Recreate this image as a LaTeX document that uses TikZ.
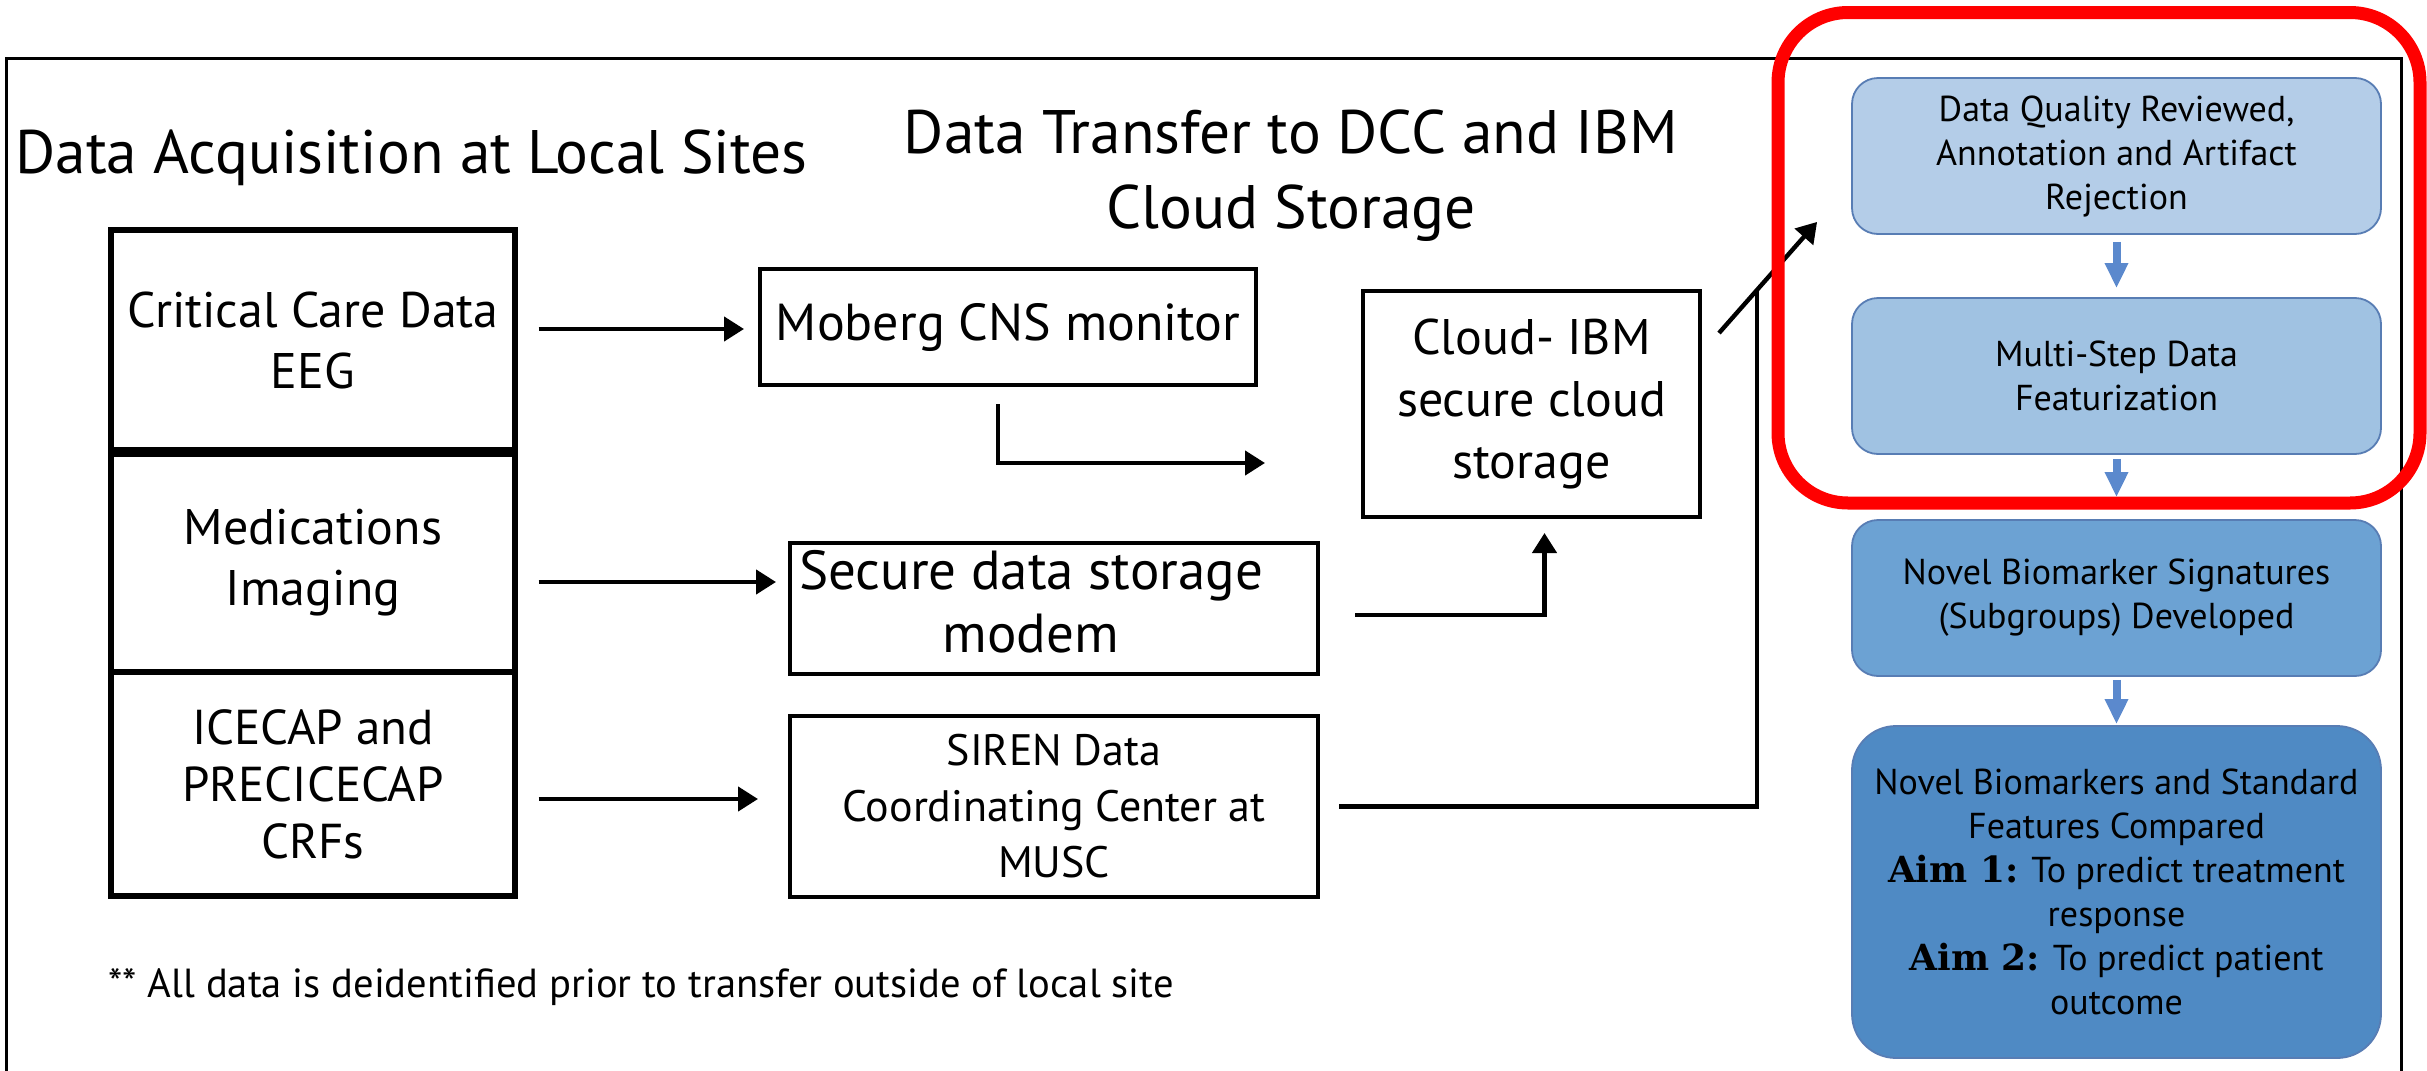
\documentclass[tikz,border=0pt]{standalone}
\usepackage{fontspec}
\setmainfont{PT Sans}
\newfontfamily\aimfont{DejaVu Serif}
\usetikzlibrary{arrows.meta, positioning, calc}

\definecolor{stepline}{RGB}{88,125,180}
\definecolor{stepA}{RGB}{180,205,232}
\definecolor{stepB}{RGB}{160,194,226}
\definecolor{stepC}{RGB}{108,162,211}
\definecolor{stepD}{RGB}{79,138,196}
\definecolor{steparrow}{RGB}{91,137,205}

\begin{document}
\begin{tikzpicture}[x=0.5pt, y=-0.5pt, line join=miter,
    srcbox/.style={draw, line width=2.6pt, minimum width=202pt, inner sep=0pt, align=center, font=\fontsize{25}{30.5}\selectfont},
    midbox/.style={draw, line width=2pt, inner sep=0pt, align=center},
    stepbox/.style={draw=stepline, line width=0.9pt, rounded corners=13pt, minimum width=264.5pt, minimum height=78pt, inner sep=0pt, align=center, font=\fontsize{18}{22}\selectfont},
    flow/.style={-{Triangle[length=10pt,width=12pt]}, line width=2.2pt},
    stepflow/.style={-{Triangle[length=12.5pt,width=11pt]}, line width=4pt, draw=steparrow},
    title/.style={font=\fontsize{30.7}{37.5}\selectfont, align=center, inner sep=0pt}]

    \useasboundingbox (0,0) rectangle (2427,1071);

    % outer frame (open at the bottom)
    \draw[line width=1.5pt] (6,1071) |- (2401,58) -- (2401,1071);

    % titles
    \node[title, anchor=base west] (acq) at (15,173) {Data Acquisition at Local Sites};
    \node[title, anchor=north] (xfer) at (1291,109) {Data Transfer to DCC and IBM\\Cloud Storage};

    % local site sources
    \node[srcbox, minimum height=110pt] (crit) at (313,340) {Critical Care Data\\EEG};
    \node[srcbox, minimum height=109pt] (meds) at (313,563) {Medications\\Imaging};
    \node[srcbox, minimum height=112pt, font=\fontsize{24.5}{28.5}\selectfont] (crf) at (313,784) {ICECAP and\\PRECICECAP\\CRFs};

    % transfer stage
    \node[midbox, minimum width=248pt, minimum height=58pt, font=\fontsize{26}{32}\selectfont] (moberg) at (1008,327) {Moberg CNS monitor};
    \node[midbox, minimum width=264pt, minimum height=65.5pt, font=\fontsize{27.5}{31.5}\selectfont] (modem) at (1054,608.5) {\begin{tabular}{@{}c@{}}Secure data storage\\modem\end{tabular}\hspace*{23pt}};
    \node[midbox, minimum width=264pt, minimum height=90.5pt, font=\fontsize{22}{28}\selectfont] (siren) at (1054,806.5) {SIREN Data\\Coordinating Center at\\MUSC};
    \node[midbox, minimum width=168.5pt, minimum height=113pt, font=\fontsize{25}{31}\selectfont] (cloud) at (1531.5,404) {Cloud- IBM\\secure cloud\\storage};

    % analysis steps
    \node[stepbox, fill=stepA] (review) at (2116.5,156) {Data Quality Reviewed,\\Annotation and Artifact\\Rejection};
    \node[stepbox, fill=stepB] (feat) at (2116.5,376) {Multi-Step Data\\Featurization};
    \node[stepbox, fill=stepC] (sig) at (2116.5,598) {Novel Biomarker Signatures\\(Subgroups) Developed};
    \node[stepbox, fill=stepD, minimum height=166pt, rounded corners=22pt] (aims) at (2116.5,892) {Novel Biomarkers and Standard\\Features Compared\\{\aimfont\bfseries Aim 1:} To predict treatment\\response\\{\aimfont\bfseries Aim 2:} To predict patient\\outcome};

    % footnote
    \node[anchor=base west, inner sep=0pt, font=\fontsize{20.3}{24}\selectfont] (note) at (108,997) {** All data is deidentified prior to transfer outside of local site};

    \coordinate (join) at (1757,290);

    % connectors
    \draw[flow] ($(crit.east |- moberg.west)+(10.5pt,-1pt)$) -- ($(moberg.west)+(-7pt,-1pt)$);
    \draw[flow] ($(moberg.south)+(-5pt,-8.5pt)$) |- ($(cloud.west)+(-48pt,-29.5pt)$);
    \draw[flow] ($(meds.east |- modem.west)+(10.5pt,13.25pt)$) -- ($(modem.west)+(-6pt,13.25pt)$);
    \draw[flow] ($(modem.east)+(17.5pt,-3.25pt)$) -| ($(cloud.south)+(6.5pt,-7pt)$);
    \draw[flow] ($(crf.east |- siren.west)+(10.5pt,3.75pt)$) -- ($(siren.west)+(-15pt,3.75pt)$);
    \draw[line width=2.2pt] ($(siren.east)+(9.5pt,0)$) -| (join);
    \draw[flow] ($(cloud.north east)+(8.5pt,-22pt)$) -- ($(review.south west)+(-17pt,6.5pt)$);

    \draw[stepflow] ($(review.south)+(0,-3.5pt)$) -- ($(feat.north)+(0,4.5pt)$);
    \draw[stepflow] ($(feat.south)+(0,-2pt)$) -- ($(sig.north)+(0,11pt)$);
    \draw[stepflow] ($(sig.south)+(0,-1.5pt)$) -- ($(aims.north)+(0,0.5pt)$);

    % highlight
    \draw[red, line width=6.5pt, rounded corners=35pt] (1778,12.5) rectangle (2420,503);

\end{tikzpicture}
\end{document}
